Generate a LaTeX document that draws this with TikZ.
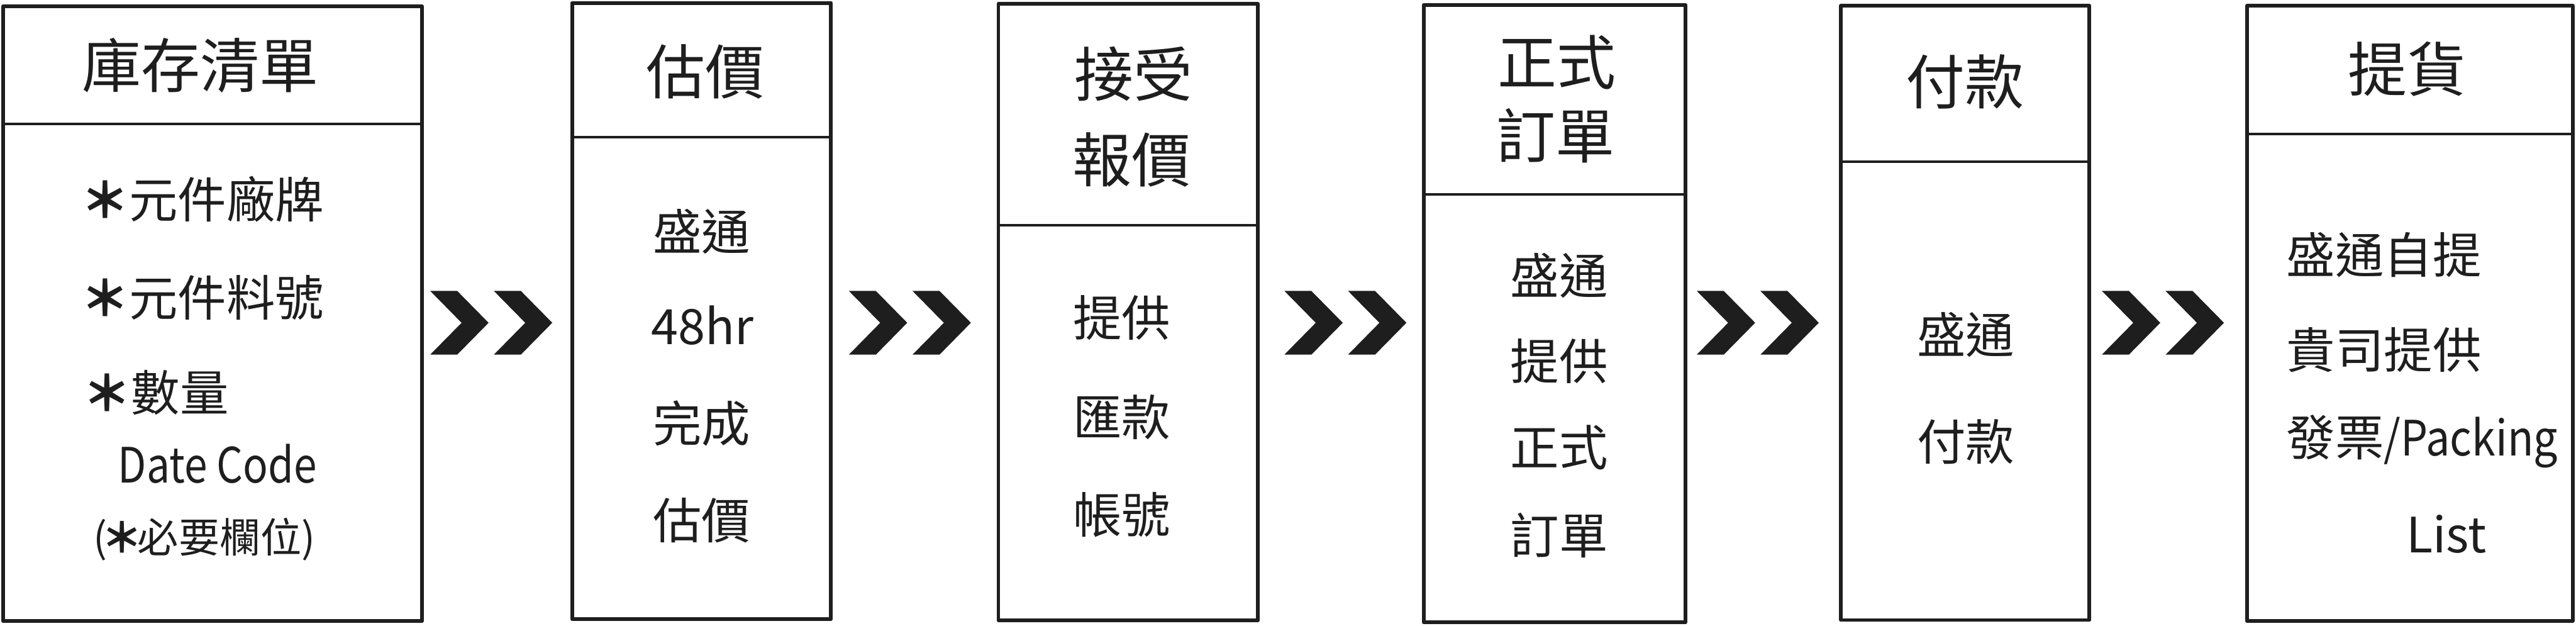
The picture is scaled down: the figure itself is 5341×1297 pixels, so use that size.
\documentclass[tikz,border=0pt]{standalone}
\usepackage{fontspec}
\setmainfont{Noto Sans CJK TC}
\usepackage{graphicx}
\usetikzlibrary{fit}
\definecolor{ink}{HTML}{1E1E1E}
\newcommand{\bast}{{\bfseries ＊}}
\tikzset{
  box/.style={draw=ink, line width=1.55pt, inner sep=0pt, line join=round},
  divider/.style={draw=ink, line width=0.9pt},
  hdr/.style={font=\fontsize{24.5}{30}\selectfont, text=ink, inner sep=0pt, anchor=center},
  bod/.style={font=\fontsize{20.2}{24}\selectfont, text=ink, inner sep=0pt, anchor=center},
  bodl/.style={bod, anchor=west},
  smalltxt/.style={font=\fontsize{17}{20}\selectfont, text=ink, inner sep=0pt, anchor=west},
  chev/.pic={
    \fill[ink] (0,0) -- (56,0) -- (121,66) -- (56,132) -- (0,132) -- (65,66) -- cycle;
    \fill[ink] (132,0) -- (188,0) -- (253,66) -- (188,132) -- (132,132) -- (197,66) -- cycle;
  }
}
\begin{document}
\begin{tikzpicture}[x=0.2pt, y=-0.2pt]
\useasboundingbox (0,0) rectangle (5341,1297);

% box corners
\coordinate (b1tl) at (6,13);    \coordinate (b1br) at (875,1287);
\coordinate (b2tl) at (1186,6);  \coordinate (b2br) at (1723,1283);
\coordinate (b3tl) at (2070,8);  \coordinate (b3br) at (2608,1286);
\coordinate (b4tl) at (2952,10); \coordinate (b4br) at (3494,1290);
\coordinate (b5tl) at (3817,12); \coordinate (b5br) at (4332,1285);
\coordinate (b6tl) at (4659,12); \coordinate (b6br) at (5334,1287);

\node[box, fit=(b1tl)(b1br)] (b1) {};
\node[box, fit=(b2tl)(b2br)] (b2) {};
\node[box, fit=(b3tl)(b3br)] (b3) {};
\node[box, fit=(b4tl)(b4br)] (b4) {};
\node[box, fit=(b5tl)(b5br)] (b5) {};
\node[box, fit=(b6tl)(b6br)] (b6) {};

% dividers
\coordinate (d1l) at (6,257);    \coordinate (d1r) at (875,257);
\coordinate (d2l) at (1186,284); \coordinate (d2r) at (1723,284);
\coordinate (d3l) at (2070,467); \coordinate (d3r) at (2608,467);
\coordinate (d4l) at (2952,403); \coordinate (d4r) at (3494,403);
\coordinate (d5l) at (3817,335); \coordinate (d5r) at (4332,335);
\coordinate (d6l) at (4659,278); \coordinate (d6r) at (5334,278);
\draw[divider] (d1l) -- (d1r);
\draw[divider] (d2l) -- (d2r);
\draw[divider] (d3l) -- (d3r);
\draw[divider] (d4l) -- (d4r);
\draw[divider] (d5l) -- (d5r);
\draw[divider] (d6l) -- (d6r);

% chevrons
\pic (c1) at (892,603) {chev};
\pic (c2) at (1760,603) {chev};
\pic (c3) at (2663,603) {chev};
\pic (c4) at (3518,603) {chev};
\pic (c5) at (4358,603) {chev};

% box 1
\node[hdr] (h1) at (415,136) {庫存清單};
\node[bodl] (t1a) at (166,413) {\bast 元件廠牌};
\node[bodl] (t1b) at (166,617) {\bast 元件料號};
\node[bodl] (t1c) at (170,814) {\bast 數量};
\node[bodl] (t1d) at (244,961) {\scalebox{0.85}[1]{Date Code}};
\node[smalltxt] (t1e) at (192,1118) {(\makebox[0.75em]{\bast}必要欄位)};

% box 2
\node[hdr] (h2) at (1462,149) {估價};
\node[bod] (t2a) at (1455,480) {盛通};
\node[bod] (t2b) at (1457,674) {48hr};
\node[bod] (t2c) at (1455,877) {完成};
\node[bod] (t2d) at (1455,1079) {估價};

% box 3
\node[hdr] (h3a) at (2350,153) {接受};
\node[hdr] (h3b) at (2347,331) {報價};
\node[bod] (t3a) at (2326,658) {提供};
\node[bod] (t3b) at (2326,864) {匯款};
\node[bod] (t3c) at (2326,1067) {帳號};

% box 4
\node[hdr] (h4a) at (3228,129) {正式};
\node[hdr] (h4b) at (3225,281) {訂單};
\node[bod] (t4a) at (3233,571) {盛通};
\node[bod] (t4b) at (3233,749) {提供};
\node[bod] (t4c) at (3233,927) {正式};
\node[bod] (t4d) at (3233,1109) {訂單};

% box 5
\node[hdr] (h5) at (4074,170) {付款};
\node[bod] (t5a) at (4076,694) {盛通};
\node[bod] (t5b) at (4076,915) {付款};

% box 6
\node[hdr] (h6) at (4991,143) {提貨};
\node[bodl] (t6a) at (4740,528) {盛通自提};
\node[bodl] (t6b) at (4740,725) {貴司提供};
\node[bodl] (t6c) at (4740,915) {發票\scalebox{0.88}[1]{/Packing}};
\node[bodl] (t6d) at (4988,1107) {List};
\end{tikzpicture}
\end{document}
